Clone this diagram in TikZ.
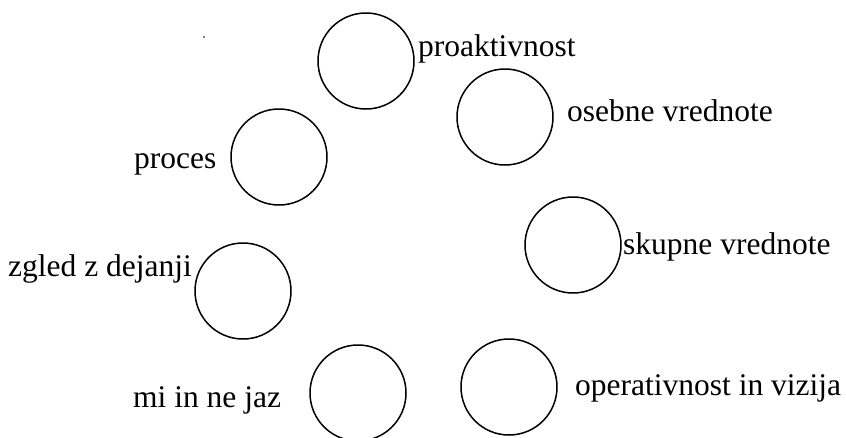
\documentclass[tikz,border=0pt]{standalone}
\usepackage{fontspec}
\setmainfont{Liberation Serif}
\begin{document}
\begin{tikzpicture}[x=1pt,y=-1pt,
  ring/.style={circle,draw,line width=1.5pt,minimum size=96pt,inner sep=0pt},
  lbl/.style={anchor=base west,inner sep=0pt,font=\fontsize{31.5}{36}\selectfont}]
  \useasboundingbox (0,0) rectangle (846,437);
  % circles
  \node[ring] (c1) at (366,61) {};
  \node[ring] (c2) at (505,117) {};
  \node[ring] (c3) at (279,157) {};
  \node[ring] (c4) at (573,245) {};
  \node[ring] (c5) at (243,291) {};
  \node[ring] (c6) at (358,393) {};
  \node[ring] (c7) at (509,387) {};
  % labels
  \node[lbl] (l1) at (418,56) {proaktivnost};
  \node[lbl] (l2) at (567,121) {osebne vrednote};
  \node[lbl] (l3) at (134,168) {proces};
  \node[lbl] (l4) at (623,254) {skupne vrednote};
  \node[lbl] (l5) at (8,276) {zgled z dejanji};
  \node[lbl] (l6) at (133,407) {mi in ne jaz};
  \node[lbl] (l7) at (575,395) {operativnost in vizija};
  % stray dot
  \fill (204,37) circle (0.9pt);
\end{tikzpicture}
\end{document}
